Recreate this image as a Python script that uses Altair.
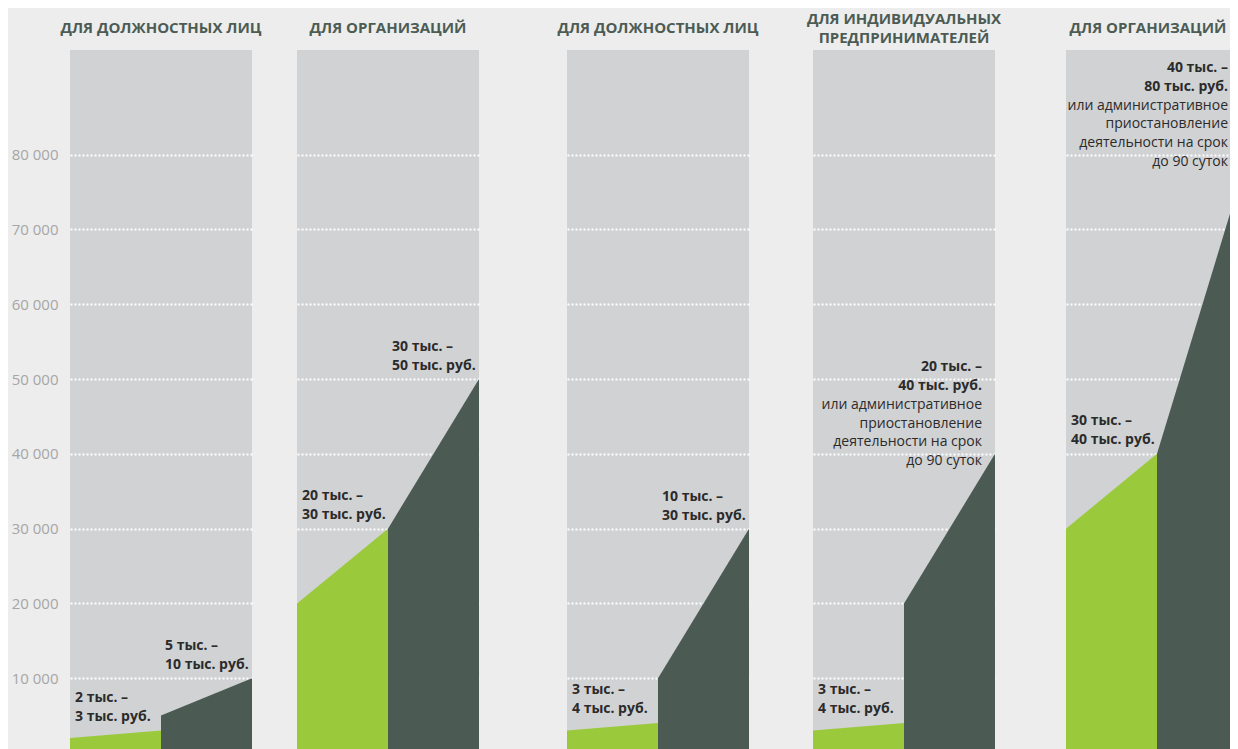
import altair as alt

# ---- data ----
titles = ["ДЛЯ ДОЛЖНОСТНЫХ ЛИЦ", "ДЛЯ ОРГАНИЗАЦИЙ", "ДЛЯ ДОЛЖНОСТНЫХ ЛИЦ",
          ["ДЛЯ ИНДИВИДУАЛЬНЫХ", "ПРЕДПРИНИМАТЕЛЕЙ"], "ДЛЯ ОРГАНИЗАЦИЙ"]
low_min = [2000, 20000, 3000, 3000, 30000]
low_max = [3000, 30000, 4000, 4000, 40000]
high_min = [5000, 30000, 10000, 20000, 40000]
high_max = [10000, 50000, 30000, 40000, 80000]
low_labels = ["2 тыс. –\n3 тыс. руб.", "20 тыс. –\n30 тыс. руб.", "3 тыс. –\n4 тыс. руб.",
              "3 тыс. –\n4 тыс. руб.", "30 тыс. –\n40 тыс. руб."]
high_labels = ["5 тыс. –\n10 тыс. руб.", "30 тыс. –\n50 тыс. руб.", "10 тыс. –\n30 тыс. руб.",
               "20 тыс. –\n40 тыс. руб.", "40 тыс. –\n80 тыс. руб."]
note = "или административное\nприостановление\nдеятельности на срок\nдо 90 суток"
high_notes = ["", "", "", note, note]
y_ticks = [10000, 20000, 30000, 40000, 50000, 60000, 70000, 80000]

# ---- style ----
FONT = "Open Sans"
GREEN = "#9aca3c"
DARK = "#4b5a53"
PANEL = "#d1d2d4"
BG = "#ededed"
HEAD = "#4c5c54"
TXT = "#2b2b2b"
Y_DOMAIN = [0, 94000]
PANEL_H = 703
PANEL_W = [182, 182, 182, 182, 164]   # last panel is cut by the page edge
GAPS = [45, 88, 64, 71]


def panel(i, show_axis, title_offset):
    xmax = 2 * PANEL_W[i] / 182
    xs = alt.Scale(domain=[0, xmax], nice=False, zero=False)
    ys = alt.Scale(domain=Y_DOMAIN, nice=False, zero=False)
    if show_axis:
        yaxis = alt.Axis(values=y_ticks, title=None,
                         labelExpr="replace(format(datum.value, ',d'), ',', ' ')")
    else:
        yaxis = alt.Axis(values=y_ticks, title=None, labels=False)
    X = alt.X("x:Q", scale=xs, axis=None)
    Y = alt.Y("v:Q", scale=ys, axis=yaxis, stack=None)

    pts = [{"x": 0, "v": low_min[i], "s": "low"},
           {"x": 1, "v": low_max[i], "s": "low"},
           {"x": 1, "v": high_min[i], "s": "high"},
           {"x": 2, "v": high_max[i], "s": "high"}]
    area = alt.Chart(alt.Data(values=pts)).mark_area(clip=True, interpolate="linear").encode(
        x=X, y=Y,
        color=alt.Color("s:N", scale=alt.Scale(domain=["low", "high"], range=[GREEN, DARK]),
                        legend=None))

    txt = dict(font=FONT, lineBreak="\n", baseline="bottom")
    low_t = alt.Chart(alt.Data(values=[{"x": 0, "v": low_max[i], "t": low_labels[i]}])).mark_text(
        align="left", dx=5, dy=-26, fontSize=14, fontWeight="bold", color=TXT,
        lineHeight=19, **txt
    ).encode(x=X, y=Y, text="t:N")

    layers = [area, low_t]
    if high_notes[i]:
        right_dx = -13 if PANEL_W[i] == 182 else -2
        hb = alt.Chart(alt.Data(values=[{"x": xmax, "v": high_max[i], "t": high_labels[i]}])).mark_text(
            align="right", dx=right_dx, dy=-80, fontSize=14, fontWeight="bold", color=TXT,
            lineHeight=19, **txt
        ).encode(x=X, y=Y, text="t:N")
        hn = alt.Chart(alt.Data(values=[{"x": xmax, "v": high_max[i], "t": high_notes[i]}])).mark_text(
            align="right", dx=right_dx, dy=-42, fontSize=14, fontWeight="normal", color=TXT,
            lineHeight=18.7, **txt
        ).encode(x=X, y=Y, text="t:N")
        layers += [hb, hn]
    else:
        hb = alt.Chart(alt.Data(values=[{"x": 1, "v": high_max[i], "t": high_labels[i]}])).mark_text(
            align="left", dx=4, dy=-25, fontSize=14, fontWeight="bold", color=TXT,
            lineHeight=19, **txt
        ).encode(x=X, y=Y, text="t:N")
        layers += [hb]

    return alt.layer(*layers).properties(
        width=PANEL_W[i], height=PANEL_H,
        title=alt.TitleParams(text=titles[i], anchor="middle", font=FONT, fontSize=15,
                              fontWeight="bold", color=HEAD, lineHeight=19, offset=title_offset))


def spacer(w):
    return alt.Chart(alt.Data(values=[{"a": 1}])).mark_point(opacity=0).properties(
        width=w, height=PANEL_H,
        view=alt.ViewBackground(fill="transparent", strokeWidth=0))


panels = [panel(0, True, 14),
          panel(1, False, 14),
          panel(2, False, 14),
          panel(3, False, 4),
          panel(4, False, 14)]

items = []
for k, pnl in enumerate(panels):
    items.append(pnl)
    if k < len(GAPS):
        items.append(spacer(GAPS[k]))

chart = alt.hconcat(*items, spacing=0, bounds="flush").properties(
    background=BG,
    padding={"left": 3, "top": 4, "right": 0, "bottom": 0},
).configure_view(
    fill=PANEL, strokeWidth=0
).configure_axis(
    domain=False, ticks=False, grid=True, gridColor="#ffffff", gridDash=[2, 2],
    gridWidth=2, gridOpacity=1, labelFont=FONT, labelFontSize=15, labelColor="#a6a6a6",
    labelPadding=12
)

chart.save("out.html", embed_options={"renderer": "svg", "actions": False})
